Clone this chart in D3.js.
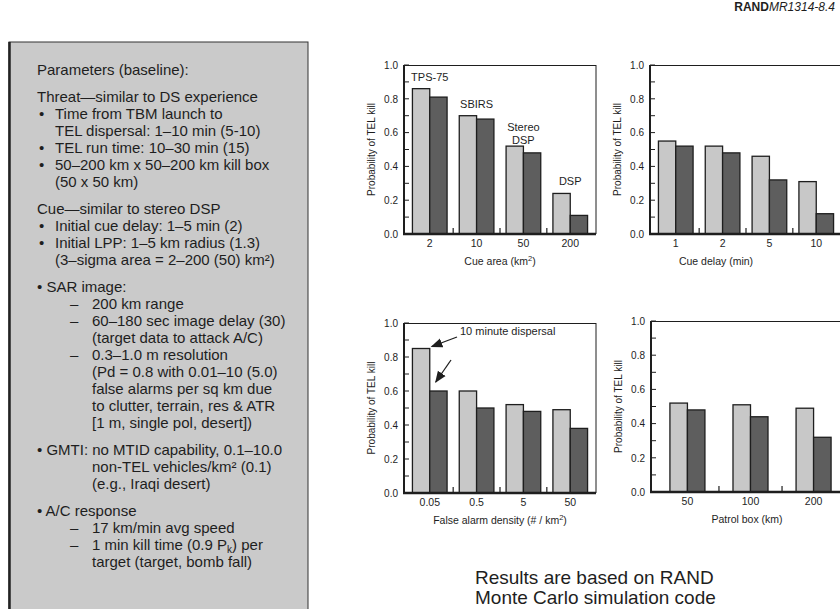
<!DOCTYPE html>
<html>
<head>
<meta charset="utf-8">
<script src="https://cdn.jsdelivr.net/npm/d3@7"></script>
<style>
  body { margin: 0; background: #fff; }
  svg { display: block; font-family: "Liberation Sans", Arial, sans-serif; }
</style>
</head>
<body>
<div id="chart"></div>
<script>
// values
const cueArea = ['2', '10', '50', '200'];
const cueAreaLight = [0.86, 0.70, 0.52, 0.24];
const cueAreaDark = [0.81, 0.68, 0.48, 0.11];
const sensorNames = [['TPS-75'], ['SBIRS'], ['Stereo', 'DSP'], ['DSP']];

const cueDelay = ['1', '2', '5', '10'];
const cueDelayLight = [0.55, 0.52, 0.46, 0.31];
const cueDelayDark = [0.52, 0.48, 0.32, 0.12];

const falseAlarm = ['0.05', '0.5', '5', '50'];
const falseAlarmLight = [0.85, 0.60, 0.52, 0.49];
const falseAlarmDark = [0.60, 0.50, 0.48, 0.38];

const patrolBox = ['50', '100', '200'];
const patrolBoxLight = [0.52, 0.51, 0.49];
const patrolBoxDark = [0.48, 0.44, 0.32];

const yTicks = [0, 0.2, 0.4, 0.6, 0.8, 1.0];
const yTitle = 'Probability of TEL kill';

const panelLines = [
  ['head', 'Parameters (baseline):'],
  ['gap'],
  ['head', 'Threat\u2014similar to DS experience'],
  ['bullet', 'Time from TBM launch to'],
  ['cont', 'TEL dispersal: 1\u201310 min (5-10)'],
  ['bullet', 'TEL run time: 10\u201330 min (15)'],
  ['bullet', '50\u2013200 km x 50\u2013200 km kill box'],
  ['cont', '(50 x 50 km)'],
  ['gap'],
  ['head', 'Cue\u2014similar to stereo DSP'],
  ['bullet', 'Initial cue delay: 1\u20135 min (2)'],
  ['bullet', 'Initial LPP: 1\u20135 km radius (1.3)'],
  ['cont', '(3\u2013sigma area = 2\u2013200 (50) km\u00b2)'],
  ['gap'],
  ['head', '\u2022 SAR image:'],
  ['dash', '200 km range'],
  ['dash', '60\u2013180 sec image delay (30)'],
  ['sub', '(target data to attack A/C)'],
  ['dash', '0.3\u20131.0 m resolution'],
  ['sub', '(Pd = 0.8 with 0.01\u201310 (5.0)'],
  ['sub', 'false alarms per sq km due'],
  ['sub', 'to clutter, terrain, res & ATR'],
  ['sub', '[1 m, single pol, desert])'],
  ['gap'],
  ['head', '\u2022 GMTI: no MTID capability, 0.1\u201310.0'],
  ['sub', 'non-TEL vehicles/km\u00b2 (0.1)'],
  ['sub', '(e.g., Iraqi desert)'],
  ['gap'],
  ['head', '\u2022 A/C response'],
  ['dash', '17 km/min avg speed'],
  ['dash', '1 min kill time (0.9 P_k) per'],
  ['sub', 'target (target, bomb fall)']
];

const lightGrey = '#c8c8c8';
const darkGrey = '#5e5e5e';
const ink = '#1e1e1e';

const svg = d3.select('#chart').append('svg').attr('width', 840).attr('height', 609);

// ---- left parameter panel
svg.append('rect').attr('x', 9).attr('y', 42).attr('width', 299).attr('height', 600)
  .attr('fill', '#cacaca').attr('stroke', '#333').attr('stroke-width', 1);
svg.append('line').attr('x1', 9.5).attr('x2', 9.5).attr('y1', 42).attr('y2', 609)
  .attr('stroke', '#222').attr('stroke-width', 2.5);

const indent = {head: 37, bullet: 55, cont: 55, dash: 92, sub: 92};
let lineY = 75;
panelLines.forEach(function(l) {
  if (l[0] == 'gap') { lineY += 10; return; }
  if (l[0] == 'bullet') {
    svg.append('text').attr('x', 39).attr('y', lineY).attr('font-size', 15).attr('fill', ink).text('\u2022');
  }
  if (l[0] == 'dash') {
    svg.append('text').attr('x', 70).attr('y', lineY).attr('font-size', 15).attr('fill', ink).text('\u2013');
  }
  let t = svg.append('text').attr('x', indent[l[0]]).attr('y', lineY)
    .attr('font-size', 15).attr('fill', ink);
  let parts = l[1].split('_k');
  t.append('tspan').text(parts[0]);
  if (parts.length > 1) {
    t.append('tspan').attr('font-size', 10).attr('dy', 3).text('k');
    t.append('tspan').attr('dy', -3).text(parts[1]);
  }
  lineY += 17;
});

// ---- RAND tag
let tag = svg.append('text').attr('x', 835).attr('y', 11).attr('text-anchor', 'end')
  .attr('font-size', 12).attr('fill', ink);
tag.append('tspan').attr('font-weight', 'bold').text('RAND');
tag.append('tspan').attr('font-style', 'italic').text('MR1314-8.4');

// ---- bar chart panel
let drawChart = function(opts) {
  let g = svg.append('g').attr('transform', 'translate(' + opts.left + ',' + opts.top + ')');
  let x = d3.scaleBand().domain(opts.cats).range([0, opts.width])
    .paddingInner(opts.padIn).paddingOuter(opts.padOut);
  let y = d3.scaleLinear().domain([0, 1]).range([opts.height, 0]);
  let half = x.bandwidth() / 2;

  let groups = g.selectAll('g.grp').data(opts.cats).enter().append('g').attr('class', 'grp');
  groups.append('rect')
    .attr('x', function(d) { return x(d); })
    .attr('y', function(d, i) { return y(opts.light[i]); })
    .attr('width', half)
    .attr('height', function(d, i) { return opts.height - y(opts.light[i]); })
    .attr('fill', lightGrey).attr('stroke', ink).attr('stroke-width', 1.3);
  groups.append('rect')
    .attr('x', function(d) { return x(d) + half; })
    .attr('y', function(d, i) { return y(opts.dark[i]); })
    .attr('width', half)
    .attr('height', function(d, i) { return opts.height - y(opts.dark[i]); })
    .attr('fill', darkGrey).attr('stroke', ink).attr('stroke-width', 1.3);

  // frame
  g.append('line').attr('x1', 0).attr('x2', opts.width).attr('y1', 0.5).attr('y2', 0.5)
    .attr('stroke', ink).attr('stroke-width', 1);
  g.append('line').attr('x1', opts.width).attr('x2', opts.width).attr('y1', 0).attr('y2', opts.height)
    .attr('stroke', ink).attr('stroke-width', 1);
  g.append('line').attr('x1', 0).attr('x2', 0).attr('y1', 0).attr('y2', opts.height + 1)
    .attr('stroke', ink).attr('stroke-width', 2);
  g.append('line').attr('x1', -1).attr('x2', opts.width).attr('y1', opts.height).attr('y2', opts.height)
    .attr('stroke', ink).attr('stroke-width', 2.5);

  // inward minor ticks every 0.1
  g.selectAll('line.minor').data(y.ticks(10)).enter().append('line')
    .attr('x1', 0).attr('x2', 5)
    .attr('y1', function(d) { return y(d); }).attr('y2', function(d) { return y(d); })
    .attr('stroke', ink).attr('stroke-width', 1);

  // y labels
  let yAxis = d3.axisLeft(y).tickValues(yTicks).tickFormat(d3.format('.1f')).tickSize(0).tickPadding(6);
  let ya = g.append('g').call(yAxis);
  ya.select('.domain').remove();
  ya.selectAll('text').attr('font-size', 10).attr('font-family', 'Liberation Sans, Arial, sans-serif').attr('fill', ink);

  // x labels
  let xAxis = d3.axisBottom(x).tickSize(0).tickPadding(6);
  let xa = g.append('g').attr('transform', 'translate(0,' + opts.height + ')').call(xAxis);
  xa.select('.domain').remove();
  xa.selectAll('text').attr('font-size', 10.5).attr('font-family', 'Liberation Sans, Arial, sans-serif').attr('fill', ink);

  // separator ticks between groups
  let gap = x.step() * x.paddingInner() / 2;
  g.selectAll('line.sep').data(opts.cats.slice(0, -1)).enter().append('line')
    .attr('x1', function(d) { return x(d) + x.bandwidth() + gap; })
    .attr('x2', function(d) { return x(d) + x.bandwidth() + gap; })
    .attr('y1', opts.height).attr('y2', opts.height - 6)
    .attr('stroke', ink).attr('stroke-width', 1.2);

  // titles
  let xt = g.append('text').attr('x', opts.titleX).attr('y', opts.height + 31)
    .attr('text-anchor', 'middle').attr('font-size', 10.5).attr('fill', ink);
  xt.append('tspan').text(opts.xTitle[0]);
  if (opts.xTitle.length > 1) {
    xt.append('tspan').attr('font-size', 7.5).attr('dy', -4).text(opts.xTitle[1]);
    xt.append('tspan').attr('dy', 4).text(opts.xTitle[2]);
  }
  g.append('text').attr('transform', 'translate(' + (-29) + ',' + (opts.height / 2) + ') rotate(-90)')
    .attr('text-anchor', 'middle').attr('font-size', 10).attr('fill', ink).text(yTitle);

  return {g: g, x: x, y: y};
};

let c1 = drawChart({left: 404, top: 65, width: 192, height: 169, cats: cueArea,
  light: cueAreaLight, dark: cueAreaDark, padIn: 0.26, padOut: 0.18,
  xTitle: ['Cue area (km', '2', ')'], titleX: 96});
c1.g.selectAll('text.sensor').data(sensorNames).enter().append('text')
  .attr('class', 'sensor')
  .attr('x', function(d, i) { return c1.x(cueArea[i]) + c1.x.bandwidth() / 2; })
  .attr('y', function(d, i) { return c1.y(cueAreaLight[i]) - 8 - (d.length - 1) * 7; })
  .attr('text-anchor', 'middle').attr('font-size', 11).attr('fill', ink)
  .each(function(d) {
    let t = d3.select(this);
    d.forEach(function(s, k) {
      t.append('tspan').attr('x', t.attr('x')).attr('dy', k == 0 ? 0 : 13).text(s);
    });
  });

drawChart({left: 650, top: 65, width: 192, height: 169, cats: cueDelay,
  light: cueDelayLight, dark: cueDelayDark, padIn: 0.26, padOut: 0.18,
  xTitle: ['Cue delay  (min)'], titleX: 66});

let c3 = drawChart({left: 404, top: 323, width: 192, height: 170, cats: falseAlarm,
  light: falseAlarmLight, dark: falseAlarmDark, padIn: 0.26, padOut: 0.18,
  xTitle: ['False alarm density (# / km', '2', ')'], titleX: 96});

drawChart({left: 651, top: 321, width: 199, height: 171, cats: patrolBox,
  light: patrolBoxLight, dark: patrolBoxDark, padIn: 0.445, padOut: 0.3,
  xTitle: ['Patrol box (km)'], titleX: 96});

// "10 minute dispersal" callout with two arrows
svg.append('defs').append('marker').attr('id', 'head')
  .attr('viewBox', '0 0 10 10').attr('refX', 9).attr('refY', 5)
  .attr('markerWidth', 9).attr('markerHeight', 9).attr('orient', 'auto')
  .append('path').attr('d', 'M0,1 L10,5 L0,9 Z').attr('fill', ink);
let bx = c3.x(falseAlarm[0]);
let bw = c3.x.bandwidth() / 2;
c3.g.append('text').attr('x', 56).attr('y', 12).attr('font-size', 11).attr('fill', ink)
  .text('10 minute dispersal');
c3.g.append('line').attr('x1', 53).attr('y1', 14)
  .attr('x2', bx + bw + 2).attr('y2', c3.y(falseAlarmLight[0]) - 2)
  .attr('stroke', ink).attr('stroke-width', 1.3).attr('marker-end', 'url(#head)');
c3.g.append('line').attr('x1', 47).attr('y1', 37)
  .attr('x2', bx + bw + 6).attr('y2', c3.y(falseAlarmDark[0]) - 9)
  .attr('stroke', ink).attr('stroke-width', 1.3).attr('marker-end', 'url(#head)');

// footnote
let note = svg.append('text').attr('x', 475).attr('y', 584).attr('font-size', 19).attr('fill', ink);
note.append('tspan').attr('x', 475).text('Results are based on RAND');
note.append('tspan').attr('x', 475).attr('dy', 20).text('Monte Carlo simulation code');
</script>
</body>
</html>
